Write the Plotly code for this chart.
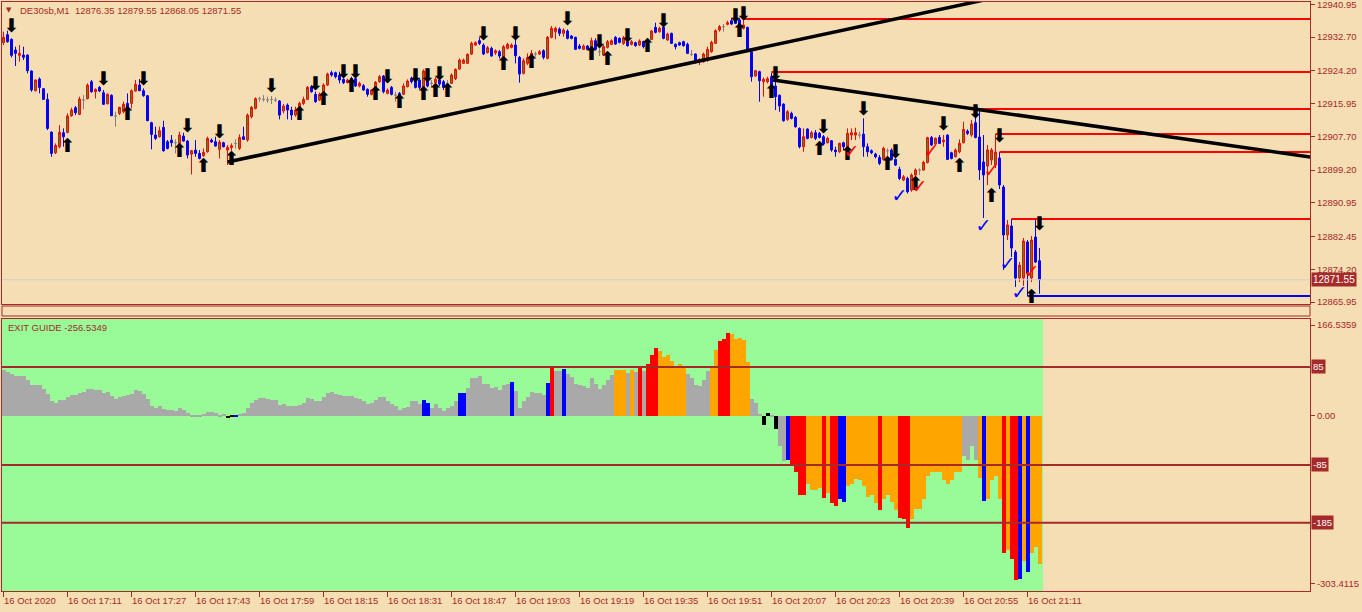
import plotly.graph_objects as go

# ---------------- data ----------------
bar_index = list(range(260))

open_ = [12931.28,12933.29,12932.12,12929.43,12928.09,12928.17,12928.17,12924.14,12919.18,12922.12,
12919.69,12917.00,12908.77,12903.56,12905.07,12908.60,12908.68,12912.88,12914.90,12913.22,
12916.83,12917.17,12921.45,12918.93,12920.02,12918.68,12915.91,12918.01,12912.80,12913.47,
12913.89,12915.99,12915.99,12919.10,12920.61,12919.18,12917.92,12911.12,12908.01,12907.59,
12909.94,12906.33,12906.75,12906.08,12905.91,12907.76,12906.50,12903.22,12904.23,12903.39,
12902.80,12903.81,12906.75,12906.33,12904.40,12906.08,12904.23,12904.90,12905.91,12904.65,
12907.59,12906.75,12912.63,12914.73,12917.17,12917.00,12916.83,12917.00,12916.83,12916.58,
12914.06,12915.57,12914.31,12913.05,12914.31,12915.99,12917.00,12920.19,12918.26,12916.83,
12918.26,12920.61,12923.72,12923.72,12923.05,12922.04,12921.28,12922.29,12922.21,12920.36,
12920.44,12919.52,12918.26,12919.18,12921.45,12922.88,12918.51,12920.02,12918.09,12918.51,
12918.26,12920.19,12922.29,12922.54,12921.87,12919.77,12924.39,12921.03,12921.20,12921.87,
12921.45,12921.03,12921.03,12922.21,12924.64,12926.07,12926.07,12928.42,12930.69,12931.78,
12930.69,12928.76,12929.85,12928.76,12929.01,12927.75,12929.85,12930.10,12930.69,12927.58,
12923.55,12926.07,12927.33,12928.42,12928.42,12929.26,12927.33,12932.62,12934.05,12934.72,
12933.63,12934.22,12932.96,12932.62,12930.44,12929.60,12930.44,12928.59,12931.78,12929.01,
12928.17,12930.10,12930.86,12932.62,12932.37,12931.11,12931.53,12930.86,12931.28,12930.69,
12931.53,12931.11,12932.12,12935.14,12934.05,12935.14,12931.95,12933.63,12930.86,12931.28,
12931.53,12930.86,12928.34,12928.42,12926.49,12926.49,12926.91,12929.01,12931.11,12934.47,
12935.31,12935.90,12936.82,12937.24,12936.99,12934.89,12935.14,12929.01,12922.88,12923.97,
12921.45,12921.45,12922.71,12920.36,12918.01,12915.82,12911.96,12913.47,12912.46,12909.69,
12905.07,12909.52,12907.42,12908.60,12908.43,12907.59,12906.08,12906.58,12904.23,12903.81,
12906.08,12905.07,12908.01,12908.01,12908.01,12908.26,12905.07,12904.06,12903.22,12902.38,
12901.88,12904.06,12904.23,12901.88,12899.36,12896.67,12897.09,12894.15,12897.93,12899.19,
12899.19,12901.12,12907.42,12905.74,12907.42,12906.33,12908.01,12903.56,12902.55,12903.81,
12906.08,12909.02,12908.01,12911.12,12907.52,12901.22,12900.21,12901.73,12900.47,12902.23,
12894.93,12882.83,12885.10,12878.55,12872.00,12872.00,12881.07,12872.00,12882.33,12876.35]

high = [12934.05,12934.30,12932.37,12930.27,12930.69,12930.27,12928.34,12924.31,12922.04,12922.54,
12919.85,12918.51,12908.93,12905.91,12910.53,12909.69,12913.47,12914.90,12915.32,12917.67,
12918.09,12921.03,12921.87,12919.77,12920.36,12919.35,12918.51,12918.26,12913.89,12915.15,
12916.41,12918.51,12919.52,12921.87,12922.12,12919.77,12918.09,12911.37,12910.11,12910.11,
12911.62,12906.75,12908.01,12906.92,12908.85,12908.60,12906.75,12904.23,12906.75,12904.23,
12904.65,12907.59,12907.17,12907.59,12906.75,12906.33,12905.49,12905.91,12906.92,12908.18,
12910.11,12913.47,12915.32,12917.50,12917.67,12918.09,12917.67,12917.84,12917.50,12916.83,
12915.82,12915.99,12915.15,12915.15,12916.41,12917.67,12920.36,12920.61,12918.93,12918.68,
12921.03,12923.72,12924.22,12923.97,12923.97,12922.29,12922.21,12922.71,12922.71,12921.45,
12920.86,12919.77,12919.52,12921.62,12923.13,12923.13,12919.77,12920.36,12918.93,12918.85,
12921.03,12922.04,12922.71,12922.88,12922.29,12924.56,12924.81,12921.87,12922.54,12922.29,
12921.87,12921.87,12923.55,12924.81,12927.33,12927.25,12928.59,12931.53,12931.61,12932.62,
12931.11,12930.44,12930.27,12929.60,12929.43,12930.69,12931.28,12931.11,12932.12,12927.92,
12927.33,12928.59,12929.43,12929.01,12929.43,12929.60,12932.96,12935.48,12935.31,12935.14,
12934.89,12934.64,12933.21,12932.79,12930.94,12930.86,12930.69,12932.54,12932.37,12929.85,
12930.69,12931.95,12932.12,12932.96,12932.62,12932.96,12931.78,12931.95,12931.53,12932.12,
12931.78,12932.37,12934.47,12936.32,12935.31,12935.48,12933.80,12933.80,12931.11,12931.53,
12931.78,12931.28,12929.43,12928.59,12927.33,12928.76,12930.27,12931.78,12934.64,12935.73,
12935.98,12936.82,12937.41,12937.66,12937.41,12937.16,12935.31,12929.26,12924.39,12924.22,
12922.54,12922.71,12923.72,12921.87,12918.26,12915.99,12914.31,12913.89,12912.80,12909.94,
12909.69,12909.69,12909.10,12909.27,12908.77,12908.01,12907.59,12906.75,12905.07,12906.08,
12906.33,12909.69,12909.69,12909.86,12908.85,12912.21,12905.91,12904.40,12903.56,12902.97,
12905.07,12904.65,12904.65,12902.13,12900.03,12897.93,12897.51,12898.35,12899.61,12899.61,
12901.54,12907.59,12907.76,12907.42,12908.01,12908.01,12908.18,12903.81,12904.65,12906.92,
12911.37,12909.44,12911.79,12913.47,12914.57,12908.02,12905.51,12904.75,12908.27,12903.74,
12895.43,12886.61,12886.86,12879.05,12876.03,12882.08,12881.57,12882.58,12886.60,12879.55]

low = [12930.69,12931.28,12927.58,12925.40,12926.49,12926.91,12923.55,12918.93,12919.01,12918.51,
12916.83,12909.27,12902.55,12903.22,12904.65,12905.07,12908.43,12912.63,12913.05,12913.05,
12914.48,12917.00,12918.68,12917.25,12918.85,12915.57,12915.74,12912.80,12910.11,12913.05,
12913.47,12914.31,12914.73,12918.93,12919.10,12917.67,12911.62,12904.40,12906.75,12907.42,
12903.81,12904.40,12905.07,12903.39,12905.07,12906.33,12902.13,12898.10,12902.55,12901.88,
12902.55,12903.56,12906.08,12905.07,12902.13,12904.90,12900.45,12904.06,12904.65,12904.23,
12906.75,12906.33,12912.21,12914.48,12916.41,12916.41,12916.16,12915.82,12916.33,12911.96,
12913.47,12911.96,12911.79,12912.63,12913.89,12915.57,12916.83,12918.68,12916.16,12916.58,
12918.09,12920.36,12922.71,12922.29,12921.03,12920.86,12921.03,12921.03,12920.19,12920.02,
12919.18,12917.67,12918.01,12918.93,12921.20,12918.51,12918.26,12918.01,12916.41,12917.25,
12918.09,12920.02,12921.03,12919.77,12919.52,12919.35,12920.02,12920.02,12920.86,12920.36,
12919.35,12920.02,12920.86,12921.87,12924.39,12925.90,12925.90,12928.17,12930.44,12930.69,
12928.17,12928.59,12927.75,12928.17,12927.33,12927.58,12929.60,12929.85,12926.07,12921.20,
12923.30,12925.65,12926.74,12927.75,12928.17,12927.08,12927.08,12932.37,12932.12,12932.96,
12932.79,12932.12,12932.12,12929.43,12929.60,12929.43,12929.43,12928.42,12929.43,12927.92,
12927.92,12929.85,12930.69,12930.69,12931.11,12930.69,12930.27,12930.61,12930.27,12930.44,
12929.85,12929.43,12931.95,12933.63,12933.80,12932.12,12931.78,12930.94,12929.60,12930.44,
12930.27,12928.42,12927.92,12926.07,12925.65,12926.24,12926.49,12928.76,12930.94,12934.05,
12934.05,12935.65,12935.73,12935.98,12935.14,12934.64,12929.26,12921.45,12922.71,12916.41,
12917.67,12921.03,12920.02,12914.31,12913.89,12911.37,12911.62,12911.96,12909.86,12904.65,
12903.81,12906.92,12907.17,12906.75,12907.17,12905.49,12905.91,12903.81,12902.55,12903.56,
12904.23,12904.65,12906.75,12906.75,12907.17,12902.55,12902.55,12903.22,12902.13,12900.45,
12901.71,12901.71,12901.71,12900.20,12896.67,12896.42,12893.31,12893.73,12897.09,12897.93,
12899.02,12900.87,12905.24,12905.49,12905.74,12905.07,12901.71,12901.88,12902.38,12903.39,
12905.91,12908.01,12907.59,12907.17,12896.69,12887.12,12895.43,12900.47,12899.71,12894.42,
12874.02,12881.57,12877.29,12869.74,12870.99,12869.99,12867.47,12870.99,12875.78,12868.05]

close = [12932.62,12931.53,12928.09,12928.59,12928.59,12927.58,12924.22,12919.35,12921.87,12920.02,
12917.00,12909.69,12903.39,12905.41,12908.68,12907.59,12912.80,12914.31,12913.64,12917.08,
12916.83,12920.61,12918.93,12919.52,12919.10,12915.74,12918.26,12912.88,12912.80,12914.98,
12915.74,12914.98,12919.18,12920.78,12919.18,12917.92,12911.62,12908.18,12907.17,12909.10,
12904.06,12904.65,12906.08,12906.08,12908.01,12906.50,12902.97,12904.06,12903.39,12902.13,
12903.64,12907.17,12906.25,12905.24,12906.25,12905.07,12904.90,12905.32,12905.91,12907.42,
12906.92,12913.05,12914.98,12917.17,12917.17,12917.00,12916.83,12917.00,12916.83,12913.05,
12915.32,12914.31,12913.05,12914.31,12915.99,12917.00,12920.02,12918.93,12916.41,12918.26,
12920.61,12923.38,12923.13,12922.71,12921.87,12921.20,12921.87,12921.20,12920.36,12921.03,
12919.35,12918.26,12919.35,12921.28,12922.71,12918.93,12919.35,12918.26,12918.09,12917.67,
12920.36,12921.62,12921.45,12920.02,12920.02,12924.14,12920.36,12921.03,12922.04,12920.86,
12920.02,12921.03,12923.13,12924.56,12926.91,12926.91,12928.34,12931.11,12931.28,12931.11,
12928.42,12930.02,12927.92,12929.26,12927.92,12930.27,12930.86,12930.69,12928.00,12923.38,
12926.74,12927.50,12928.59,12928.42,12929.01,12927.58,12932.62,12934.89,12934.89,12933.63,
12934.47,12932.37,12932.37,12929.60,12929.85,12930.44,12929.60,12931.78,12929.60,12929.01,
12930.27,12931.53,12931.78,12930.94,12931.36,12932.54,12930.52,12931.53,12930.52,12931.70,
12930.27,12931.95,12934.22,12933.88,12934.89,12932.37,12933.46,12931.11,12930.27,12930.69,
12930.52,12928.59,12928.34,12926.24,12927.08,12928.42,12929.60,12931.36,12934.30,12935.31,
12935.31,12936.32,12935.98,12936.15,12935.31,12935.73,12929.43,12922.71,12924.22,12921.70,
12922.04,12922.21,12920.19,12917.67,12915.32,12911.62,12913.89,12912.21,12910.11,12905.07,
12907.59,12907.17,12908.60,12907.17,12907.42,12905.74,12907.17,12904.23,12903.81,12905.91,
12905.07,12908.43,12908.60,12908.60,12908.01,12905.07,12903.81,12903.56,12902.55,12900.87,
12904.65,12904.06,12901.88,12900.45,12897.09,12897.51,12893.73,12897.93,12899.19,12899.19,
12901.12,12907.34,12905.49,12907.17,12905.91,12906.75,12901.88,12902.13,12904.23,12905.91,
12909.44,12908.43,12910.78,12907.42,12899.21,12897.95,12904.25,12904.25,12903.74,12895.43,
12882.83,12885.35,12879.56,12872.00,12875.27,12881.32,12873.26,12881.57,12876.03,12871.55]

# EXIT GUIDE oscillator
hist = [80,78,74,70,70,70,64,55,55,55,
47,39,26,24,29,28,34,38,38,41,
43,48,48,46,46,41,43,36,31,34,
36,37,39,46,45,39,31,18,14,18,
13,12,12,10,15,12,6,2,3,2,
3.5,8,8,6,3,5,-2,3,3,5,
6,15,24,29,32,32,31,29,29,20,
22,18,18,18,20,24,32,31,27,27,
34,41,43,39,38,35,36,36,32,31,
27,22,24,29,34,34,26,22,19,12,
14,17,26,27.5,22,29,24,15.5,21,15.5,
10,14,19,27.5,40,40,50,66,67.5,71,
57,57,50,52,46.5,55,57,60,45,14,
26,34,43,40,41,38,58.5,87,79,79,
83,74,69,57,55,53.5,50,66,57,48,
55,64,72,81,81,81,76,81,77,85,
79,91,107,119,114,103,107,97,86,91,
85,74,67,55,53,64,79,88,116,131,
135,145,143,135,136,133,95,31,24,5,
-14,6,2,-22.5,-52,-78,-75,-82,-97,-137,
-137,-117,-127,-127,-123.5,-141,-132,-150,-155,-144,
-148,-120,-117,-108,-110,-120,-139,-137,-150,-162,
-143,-136,-148,-162,-176,-177.5,-193,-177.5,-160,-160,
-143,-104,-96,-96,-97,-111,-117,-111,-97,-97,
-68,-75,-52,-75,-106,-146,-143,-110,-104,-143,
-237,-231,-247,-284,-282,-251,-270,-237,-226,-256.5349]

# colour class of each histogram bar: g=gray o=orange r=red b=blue k=black
hist_codes = ("g" * 56 + "kkb" + "g" * 46 + "bb" + "g" * 7 + "bb" + "g" * 11 + "b" + "g" * 8
              + "br" + "gg" + "b" + "g" * 12 + "ooo" + "gogrg" + "rrr" + "o" * 7 + "g" * 6
              + "oo" + "rrr" + "o" * 5 + "ggg" + "kkgk" + "gg" + "b" + "rrrr" + "oooo"
              + "rorrbb" + "o" * 8 + "r" + "oooo" + "rrr" + "o" * 13 + "gggg" + "ob"
              + "oooo" + "rorrbobooo")

price_ticks = ["12940.95", "12932.70", "12924.20", "12915.95", "12907.70",
               "12899.20", "12890.95", "12882.45", "12874.20", "12865.95"]
osc_levels = [85, -85, -185]
osc_level_labels = ["85", "-85", "-185"]
osc_tick_labels = ["166.5359", "0.00", "-303.4115"]

time_tick_pos = [0, 16, 32, 48, 64, 80, 96, 112, 128, 144, 160, 176, 192, 208, 224, 240, 256]
time_tick_labels = ["16 Oct 2020", "16 Oct 17:11", "16 Oct 17:27", "16 Oct 17:43", "16 Oct 17:59",
                    "16 Oct 18:15", "16 Oct 18:31", "16 Oct 18:47", "16 Oct 19:03", "16 Oct 19:19",
                    "16 Oct 19:35", "16 Oct 19:51", "16 Oct 20:07", "16 Oct 20:23", "16 Oct 20:39",
                    "16 Oct 20:55", "16 Oct 21:11"]

down_arrow_i = [2, 25, 35, 46, 54, 67, 78, 85, 88, 96, 103, 106, 109, 120, 128, 141, 149, 156,
                165, 183, 185, 193, 205, 215, 223, 235, 243, 249, 259]
down_arrow_p = [12935.23, 12921.88, 12921.88, 12910.04, 12908.53, 12920.11, 12920.62, 12923.64,
                12923.64, 12922.38, 12922.63, 12922.63, 12923.14, 12933.21, 12933.21, 12936.99,
                12931.20, 12932.71, 12936.49, 12937.75, 12938.25, 12923.14, 12909.79, 12914.32,
                12903.49, 12910.54, 12913.57, 12907.52, 12885.35]
up_arrow_i = [16, 31, 44, 50, 57, 74, 80, 87, 93, 99, 105, 108, 111, 125, 132, 147, 151, 161,
              184, 192, 204, 211, 221, 228, 239, 247, 257]
up_arrow_p = [12905.00, 12913.06, 12903.74, 12899.96, 12901.73, 12913.06, 12916.84, 12920.11,
              12918.10, 12916.08, 12918.10, 12918.85, 12918.85, 12925.66, 12926.16, 12928.18,
              12926.92, 12930.19, 12933.97, 12918.60, 12904.25, 12902.99, 12900.47, 12895.43,
              12899.96, 12892.41, 12866.96]
blue_check_i = [224, 245, 251, 254]
blue_check_p = [12892.41, 12884.85, 12875.28, 12867.97]
red_check_i = [212, 229, 232, 247, 257]
red_check_p = [12903.49, 12894.67, 12903.74, 12898.70, 12873.26]

res_levels = [12937.24, 12923.89, 12914.57, 12908.27, 12903.74, 12886.86]
res_start = [185, 192, 244, 248, 249, 252]
sup_levels = [12867.47]
sup_start = [256]

trend1_i = [56, 250]
trend1_p = [12901.22, 12943.08]
trend2_i = [192.4, 330]
trend2_p = [12921.88, 12901.98]

# ---------------- styling / geometry ----------------
W, H = 1362, 612
TAN = "#F5DEB3"
GREEN = "#98FB98"
BROWN = "#A52A2A"
FONT = "Liberation Sans"
FS = 9.5
X_RANGE = [-0.375, 326.625]
X_END = X_RANGE[1]


def py(p):
    return 1 - p / H


xdom = [2 / W, 1310 / W]
color_map = {"g": "#A9A9A9", "o": "#FFA500", "r": "#FF0000", "b": "#0000FF", "k": "#000000"}

doji = [o == c for o, c in zip(open_, close)]


def pick(arr, want):
    return [v if d == want else None for v, d in zip(arr, doji)]


fig = go.Figure()

# current price line
fig.add_trace(go.Scatter(x=[X_RANGE[0], X_END], y=[close[-1], close[-1]], mode="lines",
                         line=dict(color="#D0D0D0", width=1), hoverinfo="skip",
                         xaxis="x", yaxis="y"))

fig.add_trace(go.Candlestick(
    x=bar_index, open=pick(open_, False), high=pick(high, False), low=pick(low, False),
    close=pick(close, False),
    increasing=dict(line=dict(color="#FF0000", width=1), fillcolor="#2E9E2E"),
    decreasing=dict(line=dict(color="#0000FF", width=1), fillcolor="#0000FF"),
    whiskerwidth=0, hoverinfo="skip", xaxis="x", yaxis="y"))
fig.add_trace(go.Candlestick(
    x=bar_index, open=pick(open_, True), high=pick(high, True), low=pick(low, True),
    close=pick(close, True),
    increasing=dict(line=dict(color="#808080", width=1), fillcolor="#808080"),
    decreasing=dict(line=dict(color="#808080", width=1), fillcolor="#808080"),
    whiskerwidth=0, hoverinfo="skip", xaxis="x", yaxis="y"))

# horizontal levels
for lv, st in zip(res_levels, res_start):
    fig.add_trace(go.Scatter(x=[st, X_END], y=[lv, lv], mode="lines",
                             line=dict(color="#FF0000", width=2), hoverinfo="skip"))
for lv, st in zip(sup_levels, sup_start):
    fig.add_trace(go.Scatter(x=[st, X_END], y=[lv, lv], mode="lines",
                             line=dict(color="#0000FF", width=2), hoverinfo="skip"))

# trend lines
fig.add_trace(go.Scatter(x=trend1_i, y=trend1_p, mode="lines",
                         line=dict(color="#000000", width=3.5), hoverinfo="skip"))
fig.add_trace(go.Scatter(x=trend2_i, y=trend2_p, mode="lines",
                         line=dict(color="#000000", width=3.5), hoverinfo="skip"))

# signal arrows and checks
ARROW_FONT = dict(family="DejaVu Sans", size=19, color="#000000")
fig.add_trace(go.Scatter(x=down_arrow_i, y=down_arrow_p, mode="text", text=["⬇"] * len(down_arrow_i),
                         textfont=ARROW_FONT, hoverinfo="skip"))
fig.add_trace(go.Scatter(x=up_arrow_i, y=up_arrow_p, mode="text", text=["⬆"] * len(up_arrow_i),
                         textfont=ARROW_FONT, hoverinfo="skip"))
fig.add_trace(go.Scatter(x=blue_check_i, y=blue_check_p, mode="text", text=["✓"] * len(blue_check_i),
                         textfont=dict(family="DejaVu Sans", size=19, color="#0000FF"),
                         hoverinfo="skip"))
fig.add_trace(go.Scatter(x=red_check_i, y=red_check_p, mode="text", text=["✓"] * len(red_check_i),
                         textfont=dict(family="DejaVu Sans", size=19, color="#FF0000"),
                         hoverinfo="skip"))

# oscillator histogram
fig.add_trace(go.Bar(x=bar_index, y=hist, width=1.0,
                     marker=dict(color=[color_map[c] for c in hist_codes], line=dict(width=0)),
                     hoverinfo="skip", xaxis="x2", yaxis="y2"))

shapes = [
    # green indicator background (drawn over the bar range)
    dict(type="rect", xref="x2", yref="y2 domain", x0=X_RANGE[0], x1=bar_index[-1] + 0.9,
         y0=0, y1=1, fillcolor=GREEN, line=dict(width=0), layer="below"),
    # thin empty middle panel
    dict(type="rect", xref="paper", yref="paper", x0=xdom[0], x1=xdom[1], y0=py(316), y1=py(306),
         line=dict(color=BROWN, width=1), fillcolor="rgba(0,0,0,0)"),
]
for lv in osc_levels:
    shapes.append(dict(type="line", xref="x2 domain", yref="y2", x0=0, x1=1, y0=lv, y1=lv,
                       line=dict(color=BROWN, width=2)))

annotations = []
last = len(close) - 1
annotations.append(dict(xref="paper", yref="paper", x=18 / W, y=py(10), xanchor="left", yanchor="middle",
                        text=f"DE30sb,M1  {open_[last]:.2f} {high[last]:.2f} {low[last]:.2f} {close[last]:.2f}",
                        showarrow=False, font=dict(family=FONT, size=FS, color=BROWN)))
annotations.append(dict(xref="paper", yref="paper", x=9 / W, y=py(10), xanchor="center", yanchor="middle",
                        text="▼", showarrow=False, font=dict(family="DejaVu Sans", size=7, color=BROWN)))
annotations.append(dict(xref="paper", yref="paper", x=6 / W, y=py(327), xanchor="left", yanchor="middle",
                        text=f"EXIT GUIDE {hist[-1]:.4f}", showarrow=False,
                        font=dict(family=FONT, size=FS, color=BROWN)))
annotations.append(dict(xref="paper", yref="y", x=1311 / W, y=close[-1], xanchor="left", yanchor="middle",
                        text=f"{close[-1]:.2f}", showarrow=False, bgcolor=BROWN, borderpad=1,
                        font=dict(family=FONT, size=FS + 0.5, color="#FFFFFF")))
for lv, lab in zip(osc_levels, osc_level_labels):
    annotations.append(dict(xref="paper", yref="y2", x=1311 / W, y=lv, xanchor="left", yanchor="middle",
                            text=lab, showarrow=False, bgcolor=BROWN, borderpad=1,
                            font=dict(family=FONT, size=FS, color="#FFFFFF")))
for pos, lab in zip(time_tick_pos, time_tick_labels):
    annotations.append(dict(xref="x2", yref="paper", x=pos, y=py(600), xanchor="left", yanchor="middle",
                            xshift=-2, text=lab, showarrow=False,
                            font=dict(family=FONT, size=FS, color=BROWN)))

axis_common = dict(showgrid=False, zeroline=False, showline=True, mirror=True, linecolor=BROWN,
                   linewidth=1, automargin=False)

fig.update_layout(
    width=W, height=H, autosize=False, margin=dict(l=0, r=0, t=0, b=0, pad=0),
    paper_bgcolor=TAN, plot_bgcolor=TAN, showlegend=False, bargap=0,
    xaxis=dict(domain=xdom, range=X_RANGE, anchor="y", showticklabels=False, ticks="",
               rangeslider=dict(visible=False), **axis_common),
    yaxis=dict(domain=[py(304), py(2)], range=[12865.45, 12941.53], side="right", anchor="x",
               tickvals=[float(t) for t in price_ticks], ticktext=price_ticks,
               ticks="outside", ticklen=4, tickcolor=BROWN, ticklabeloverflow="allow",
               tickfont=dict(family=FONT, size=FS, color=BROWN), **axis_common),
    xaxis2=dict(domain=xdom, range=X_RANGE, anchor="y2", showticklabels=False,
                tickvals=time_tick_pos, ticks="outside", ticklen=5, tickcolor=BROWN, **axis_common),
    yaxis2=dict(domain=[py(591), py(318.5)], range=[-303.6, 169.1], side="right", anchor="x2",
                tickvals=[157.8, 0, -291.4], ticktext=osc_tick_labels,
                ticks="outside", ticklen=4, tickcolor=BROWN, ticklabeloverflow="allow",
                tickfont=dict(family=FONT, size=FS, color=BROWN), **axis_common),
    shapes=shapes, annotations=annotations,
)

fig.write_html("out.html", config={"displayModeBar": False},
               post_script="document.body.style.margin='0';document.body.style.background='#F5DEB3';")
